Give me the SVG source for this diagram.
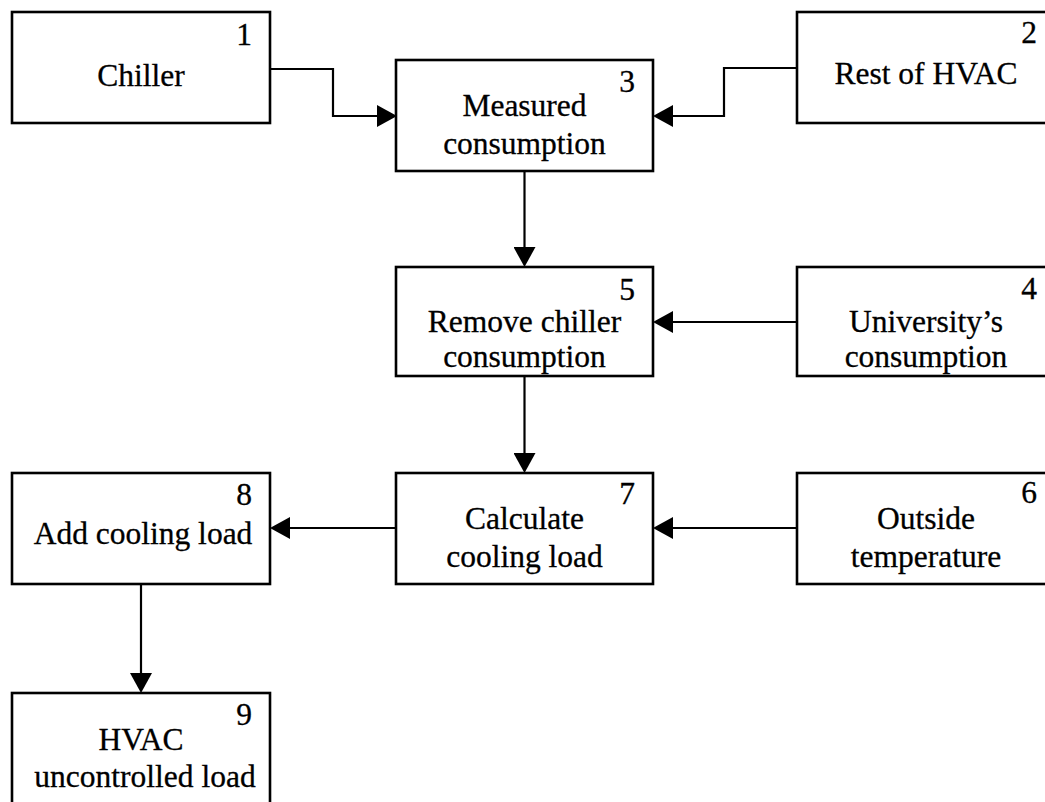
<svg xmlns="http://www.w3.org/2000/svg" width="1045" height="802" viewBox="0 0 1045 802">
  <style>
    .box { fill: #ffffff; stroke: #000000; stroke-width: 2.6; }
    .lbl { font-family: "Liberation Serif", "Times New Roman", serif; font-size: 31.5px; fill: #000000; stroke: #000000; stroke-width: 0.3; text-anchor: middle; }
    .num { font-family: "Liberation Serif", "Times New Roman", serif; font-size: 31.5px; fill: #000000; stroke: #000000; stroke-width: 0.3; text-anchor: end; }
    .link { fill: none; stroke: #000000; stroke-width: 2.2; marker-end: url(#head); }
  </style>
  <defs>
    <!-- solid triangular arrowhead; the line stops 10px short of the tip -->
    <marker id="head" markerUnits="userSpaceOnUse" viewBox="0 0 20 22" refX="10" refY="11" markerWidth="20" markerHeight="22" orient="auto">
      <path d="M0,0 L20,11 L0,22 Z" fill="#000000"/>
    </marker>
  </defs>
  <rect width="1045" height="802" fill="#ffffff"/>

  <g id="connectors">
    <path class="link" d="M270,69 H333 V116 H387"/>
    <path class="link" d="M797,68 H724 V116 H663"/>
    <path class="link" d="M524.5,171 V257"/>
    <path class="link" d="M797,322 H663"/>
    <path class="link" d="M524.5,376 V463"/>
    <path class="link" d="M797,528 H663"/>
    <path class="link" d="M396,528 H280"/>
    <path class="link" d="M141,584 V683"/>
  </g>

  <g id="node1">
    <rect class="box" x="12" y="12" width="258" height="111"/>
    <text class="num" x="252" y="45">1</text>
    <text class="lbl" x="141" y="86">Chiller</text>
  </g>
  <g id="node2">
    <rect class="box" x="797" y="12" width="258" height="111"/>
    <text class="num" x="1037" y="43">2</text>
    <text class="lbl" x="926" y="84">Rest of HVAC</text>
  </g>
  <g id="node3">
    <rect class="box" x="396" y="60" width="257" height="111"/>
    <text class="num" x="635" y="92">3</text>
    <text class="lbl" x="524.5" y="116">Measured</text>
    <text class="lbl" x="524.5" y="154">consumption</text>
  </g>
  <g id="node4">
    <rect class="box" x="797" y="267" width="258" height="109"/>
    <text class="num" x="1037" y="299">4</text>
    <text class="lbl" x="926" y="332">University’s</text>
    <text class="lbl" x="926" y="367">consumption</text>
  </g>
  <g id="node5">
    <rect class="box" x="396" y="267" width="257" height="109"/>
    <text class="num" x="635" y="300">5</text>
    <text class="lbl" x="524.5" y="332">Remove chiller</text>
    <text class="lbl" x="524.5" y="367">consumption</text>
  </g>
  <g id="node6">
    <rect class="box" x="797" y="473" width="258" height="111"/>
    <text class="num" x="1037" y="503">6</text>
    <text class="lbl" x="926" y="529">Outside</text>
    <text class="lbl" x="926" y="567">temperature</text>
  </g>
  <g id="node7">
    <rect class="box" x="396" y="473" width="257" height="111"/>
    <text class="num" x="635" y="504">7</text>
    <text class="lbl" x="524.5" y="529">Calculate</text>
    <text class="lbl" x="524.5" y="567">cooling load</text>
  </g>
  <g id="node8">
    <rect class="box" x="12" y="473" width="258" height="111"/>
    <text class="num" x="252" y="505">8</text>
    <text class="lbl" x="143" y="544">Add cooling load</text>
  </g>
  <g id="node9">
    <rect class="box" x="12" y="693" width="258" height="120"/>
    <text class="num" x="252" y="725">9</text>
    <text class="lbl" x="141" y="750">HVAC</text>
    <text class="lbl" x="145" y="787">uncontrolled load</text>
  </g>
</svg>
